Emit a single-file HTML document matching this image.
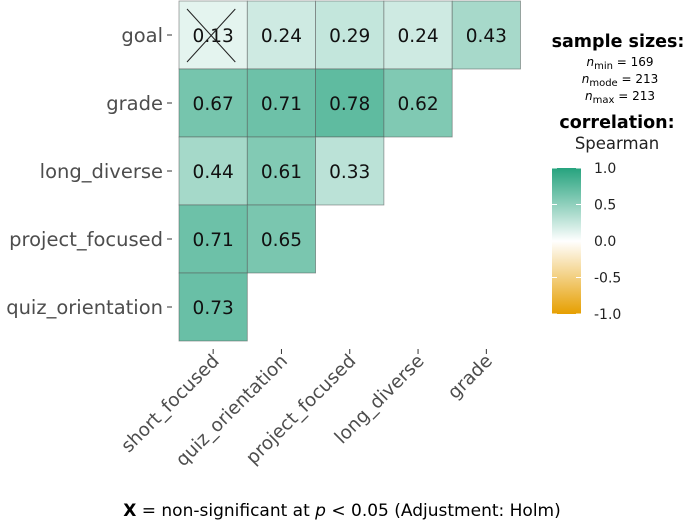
<!DOCTYPE html>
<html><head><meta charset="utf-8"><style>
body{margin:0;background:#fff}
svg{display:block;font-family:"DejaVu Sans","Liberation Sans",sans-serif}
</style></head><body>
<svg id="c" width="685" height="526" viewBox="0 0 685 526">
<defs><linearGradient id="cb" x1="0" y1="0" x2="0" y2="1">
<stop offset="0" stop-color="#1B9E77" stop-opacity="0.95"/><stop offset="0.5" stop-color="#ffffff"/><stop offset="1" stop-color="#E69F00"/></linearGradient></defs>
<g id="cells"></g>
<g id="axes"></g>
<g>
<text x="618" y="47" text-anchor="middle" font-size="17.5" font-weight="bold" fill="#000">sample sizes:</text>
<text x="620" y="66" text-anchor="middle" font-size="12"><tspan font-style="italic">n</tspan><tspan font-size="10" dy="3">min</tspan><tspan dy="-3"> = 169</tspan></text>
<text x="620" y="83" text-anchor="middle" font-size="12"><tspan font-style="italic">n</tspan><tspan font-size="10" dy="3">mode</tspan><tspan dy="-3"> = 213</tspan></text>
<text x="620" y="100" text-anchor="middle" font-size="12"><tspan font-style="italic">n</tspan><tspan font-size="10" dy="3">max</tspan><tspan dy="-3"> = 213</tspan></text>
<text x="617" y="128" text-anchor="middle" font-size="17.5" font-weight="bold">correlation:</text>
<text x="617" y="149" text-anchor="middle" font-size="16.5" fill="#222">Spearman</text>
<rect x="552" y="168" width="29" height="146" fill="url(#cb)"/>
<g id="cbl" font-size="14" fill="#222"></g>
</g>
<text x="342" y="516" text-anchor="middle" font-size="17" fill="#000"><tspan font-weight="bold">X</tspan> = non-significant at <tspan font-style="italic">p</tspan> &lt; 0.05 (Adjustment: Holm)</text>
</svg>
<script>
const xCats=["short_focused","quiz_orientation","project_focused","long_diverse","grade"];
const yCats=["goal","grade","long_diverse","project_focused","quiz_orientation"];
const values=[[0.13,0.24,0.29,0.24,0.43],[0.67,0.71,0.78,0.62],[0.44,0.61,0.33],[0.71,0.65],[0.73]];
const nonSig=[[true,false,false,false,false],[false,false,false,false],[false,false,false],[false,false],[false]];
const cbTicks=[1.0,0.5,0.0,-0.5,-1.0];
const NS="http://www.w3.org/2000/svg";
const x0=179,y0=1,cw=68.3,ch=68;
const xs=i=>x0+i*cw, ys=j=>y0+j*ch;
function col(v){const t=Math.abs(v);const c=v>=0?[27,158,119]:[230,159,0];
return "rgb("+c.map(k=>Math.round(255-(255-k)*t*0.9)).join(",")+")";}
function mk(tag,a,p){const e=document.createElementNS(NS,tag);for(const k in a)e.setAttribute(k,a[k]);p.appendChild(e);return e;}
const cells=document.getElementById('cells'),axes=document.getElementById('axes');
values.forEach((row,j)=>row.forEach((v,i)=>{
 const r=mk('rect',{x:xs(i),y:ys(j),width:cw,height:ch,fill:col(v),stroke:"#555","stroke-opacity":0.6,"stroke-width":0.8},cells);
 
 
 const t=mk('text',{x:xs(i)+cw/2,y:ys(j)+ch/2+7,"text-anchor":"middle","font-size":18.5,fill:"#111"},cells);
 t.textContent=v.toFixed(2);
 
 
 if(nonSig[j][i]){const g=mk('g',{stroke:"#222","stroke-width":1},cells);
  
  
  mk('line',{x1:xs(i)+8,y1:ys(j)+8,x2:xs(i)+cw-12,y2:ys(j)+ch-7},g);
  mk('line',{x1:xs(i)+cw-12,y1:ys(j)+8,x2:xs(i)+8,y2:ys(j)+ch-7},g);}
}));
yCats.forEach((c,j)=>{const yc=ys(j)+ch/2;
 mk('line',{x1:167,x2:172,y1:yc,y2:yc,stroke:"#333"},axes);
 const t=mk('text',{x:163,y:yc+7,"text-anchor":"end","font-size":19.5,fill:"#4d4d4d"},axes);
 t.textContent=c;
 
 });
xCats.forEach((c,i)=>{const xc=xs(i)+cw/2;
 mk('line',{x1:xc,x2:xc,y1:349,y2:354,stroke:"#333"},axes);
 const t=mk('text',{x:xc+7,y:362,"text-anchor":"end","font-size":18.5,fill:"#4d4d4d",transform:"rotate(-45 "+(xc+7)+" 362)"},axes);
 t.textContent=c;
 
 });
const cbl=document.getElementById('cbl');
cbTicks.forEach(v=>{const y=168+(1-v)/2*146;
 mk('line',{x1:552,x2:557,y1:y,y2:y,stroke:"#fff"},cbl);mk('line',{x1:576,x2:581,y1:y,y2:y,stroke:"#fff"},cbl);
 const t=mk('text',{x:594,y:y+5},cbl);t.textContent=v.toFixed(1);
 
 });
</script>
</body></html>
